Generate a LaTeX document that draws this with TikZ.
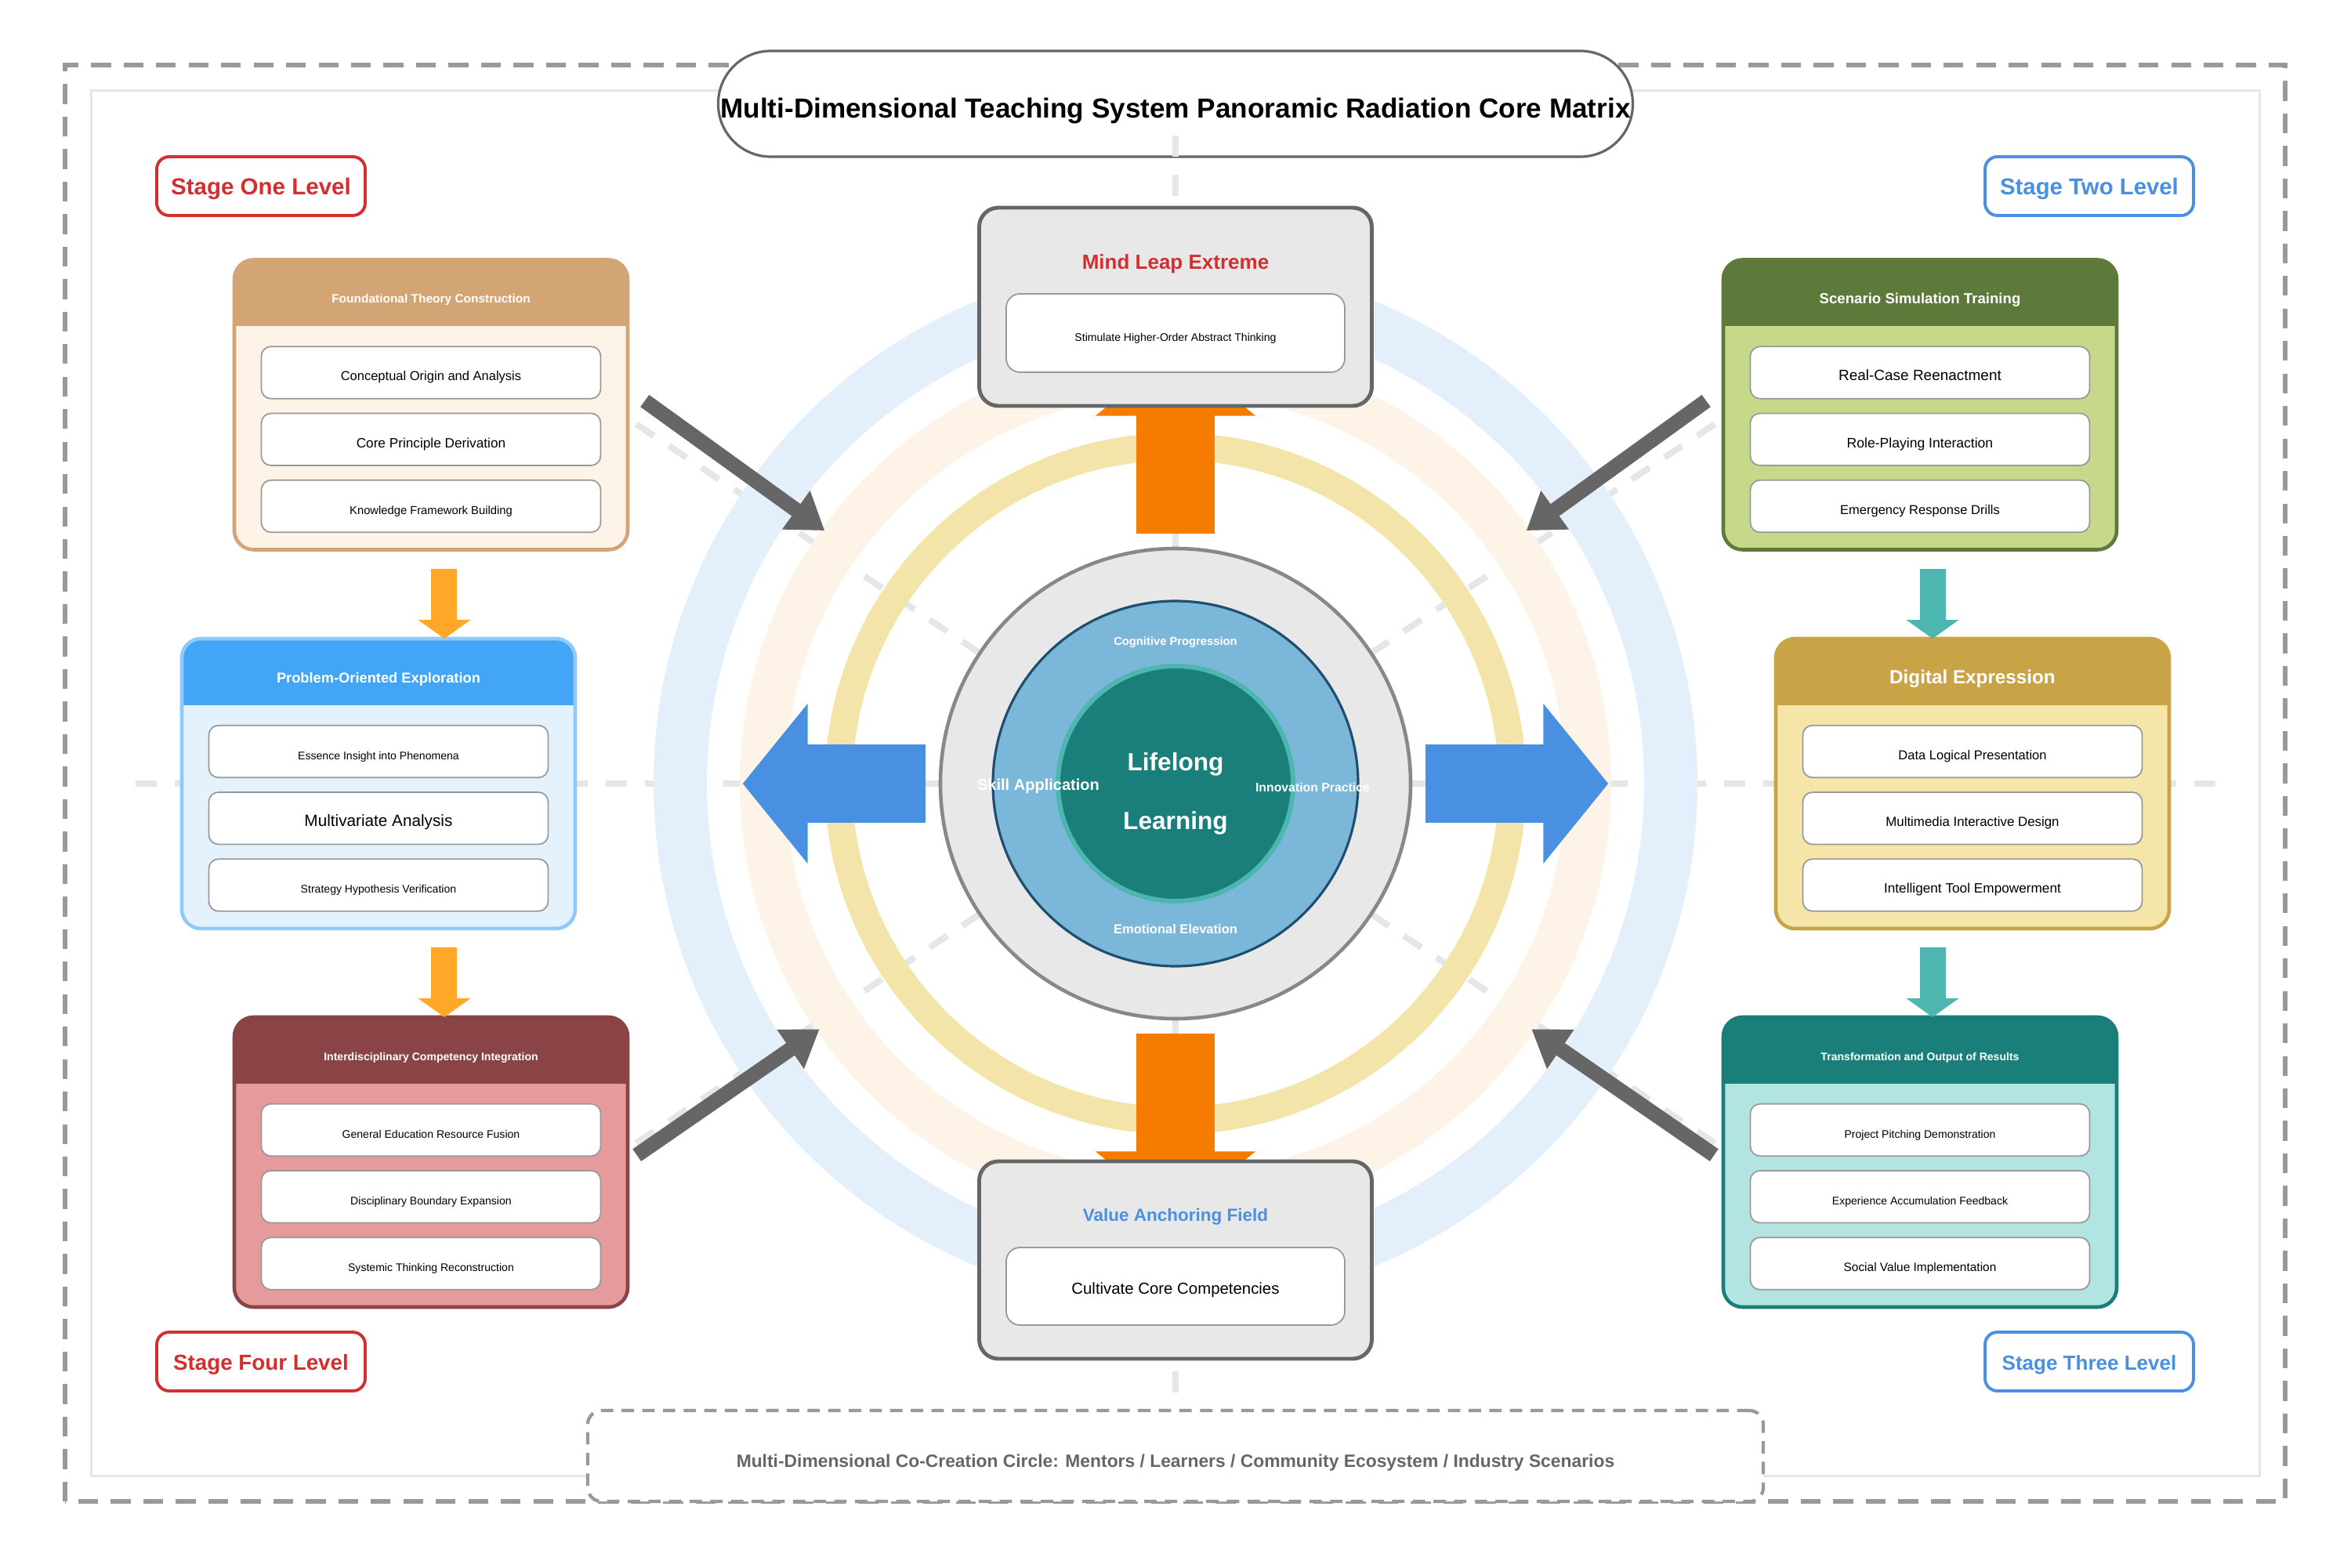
\documentclass[tikz,border=0pt]{standalone}
\usepackage{fontspec}
\setmainfont{Liberation Sans}
\usetikzlibrary{arrows.meta,positioning,calc}
\definecolor{mxRed}{HTML}{D32F2F}
\definecolor{mxBlue}{HTML}{4A90E2}
\definecolor{mxOrange}{HTML}{F57C00}
\definecolor{mxGrey}{HTML}{666666}
\definecolor{mxFrame}{HTML}{999999}
\definecolor{mxLine}{HTML}{E6E6E6}
\definecolor{mxPanel}{HTML}{E8E8E8}
\definecolor{ringBlue}{HTML}{E3F0FB}
\definecolor{ringCream}{HTML}{FDF3E6}
\definecolor{ringGold}{HTML}{F3E5A9}
\definecolor{coreEdge}{HTML}{888888}
\definecolor{coreMid}{HTML}{7BB7D8}
\definecolor{coreNavy}{HTML}{1F4E6E}
\definecolor{coreTeal}{HTML}{1A7F7A}
\definecolor{coreAqua}{HTML}{4DB6B0}
% panel families: Hdr / Body / Line
\definecolor{tanHdr}{HTML}{D4A574}   \definecolor{tanBody}{HTML}{FDF3E7}   \colorlet{tanLine}{tanHdr}
\definecolor{skyHdr}{HTML}{42A5F5}   \definecolor{skyBody}{HTML}{E3F2FD}   \definecolor{skyLine}{HTML}{90CAF9}
\definecolor{wineHdr}{HTML}{8B4446}  \definecolor{wineBody}{HTML}{E59B9B}  \colorlet{wineLine}{wineHdr}
\definecolor{oliveHdr}{HTML}{5D7A3A} \definecolor{oliveBody}{HTML}{C6D98B} \colorlet{oliveLine}{oliveHdr}
\definecolor{goldHdr}{HTML}{C9A447}  \definecolor{goldBody}{HTML}{F5E5A9}  \colorlet{goldLine}{goldHdr}
\definecolor{tealHdr}{HTML}{1A7F7A}  \definecolor{tealBody}{HTML}{B2E4E1}  \colorlet{tealLine}{tealHdr}
\definecolor{stepOrange}{HTML}{FFA726}
\definecolor{stepTeal}{HTML}{4DB6B0}
\newcommand{\txsz}[1]{\fontsize{#1}{#1}\selectfont}
\tikzset{
  panel/.style={rectangle, rounded corners=7pt, minimum width=5.02cm, minimum height=3.7cm,
              inner sep=0pt, outer sep=0pt},
  hdrtext/.style={text=white, inner sep=0pt},
  item/.style={rectangle, rounded corners=3.5pt, draw=mxFrame, line width=0.5pt,
              fill=white, minimum width=4.33cm, minimum height=0.665cm, inner sep=0pt,
              text height=5.9pt, text depth=0pt},
  stage/.style={rectangle, rounded corners=4.5pt, fill=white, line width=1.1pt,
              minimum width=2.66cm, minimum height=0.75cm, inner sep=0pt,
              text height=6.5pt, text depth=0pt},
  hub/.style={rectangle, rounded corners=7pt, fill=mxPanel, draw=mxGrey,
              line width=1.4pt, minimum width=5.01cm, minimum height=2.53cm},
  titlebox/.style={rectangle, rounded corners=0.67cm, draw=mxGrey, fill=white,
              line width=0.9pt, minimum width=11.67cm, minimum height=1.35cm,
              inner sep=0pt, text height=10pt, text depth=0pt, font=\txsz{10}\bfseries},
  ray/.style={draw=mxLine, line width=2.3pt, dash pattern=on 0.27cm off 0.23cm},
  inlbl/.style={text=white, inner sep=0pt},
  bigflow/.style={line width=1cm, -{Triangle[length=0.83cm, width=2cm]}},
  diag/.style={draw=mxGrey, line width=0.19cm, -{Triangle[length=0.45cm, width=0.58cm]}},
  stepflow/.style={line width=0.33cm, -{Triangle[length=0.24cm, width=0.66cm]}},
}
% #1 name, #2 position, #3 colour family, #4 title, #5-#7 items
\newcommand{\stagepanel}[7]{%
  \node[panel, fill=#3Body] (#1) at (#2) {};
  \begin{scope}
    \clip[rounded corners=7pt] (#1.north west) rectangle (#1.south east);
    \fill[#3Hdr] (#1.north west) rectangle ($(#1.north east)+(0,-0.85)$);
  \end{scope}
  \draw[#3Line, line width=1.3pt, rounded corners=7pt] (#1.north west) rectangle (#1.south east);
  \node[hdrtext] (#1-t) at ($(#1.north)+(0,-0.515)$) {#4};
  \node[item] (#1-1) at ($(#1.north)+(0,-1.44)$) {#5};
  \node[item, below=0.17cm of #1-1] (#1-2) {#6};
  \node[item, below=0.17cm of #1-2] (#1-3) {#7};
}

\begin{document}
\begin{tikzpicture}
    \useasboundingbox (-15,-10) rectangle (15,10);
    \fill[white] (-15,-10) rectangle (15,10);
    % frames
    \draw[mxFrame, line width=1.5pt, dash pattern=on 7.2pt off 4.6pt] (-14.17,-9.16) rectangle (14.16,9.17);
    \draw[mxLine, line width=0.85pt] (-13.83,-8.83) rectangle (13.83,8.84);
    \node[titlebox] (title) at (0,8.675)
      {Multi-Dimensional Teaching System Panoramic Radiation Core Matrix};

    % radial guides and rings
    \coordinate (c0) at (0,0);
    \foreach \a/\r in {0/13.3,180/13.3,90/8.33,270/8.0,33.69/10,146.31/10,213.69/10,326.31/10}
      \draw[ray] (c0) -- (\a:\r);
    \draw[ringBlue, line width=0.68cm] (c0) circle (6.32);
    \draw[ringCream, line width=0.58cm] (c0) circle (5.27);
    \draw[ringGold, line width=0.35cm] (c0) circle (4.30);

    % inward arrows from the four stages
    \foreach \a in {35.8,144.2,214.6,325.4}
      \draw[diag] (\a:8.35) -- (\a:5.52);

    % core
    \node[circle, fill=mxPanel, draw=coreEdge, line width=1.3pt, minimum size=6cm, inner sep=0pt] (core) at (c0) {};
    \node[circle, fill=coreMid, draw=coreNavy, line width=0.9pt, minimum size=4.66cm, inner sep=0pt] (mid) at (c0) {};
    \node[circle, fill=coreTeal, draw=coreAqua, line width=1.7pt, minimum size=3cm, inner sep=0pt] (inner) at (c0) {};
    \node[inlbl, anchor=base, font=\txsz{9}\bfseries] (life) at (0,0.17) {Lifelong};
    \node[inlbl, anchor=base, font=\txsz{9}\bfseries] (learn) at (0,-0.585) {Learning};
    \node[inlbl, font=\txsz{4.2}\bfseries] (cog) at (0,1.80) {Cognitive Progression};
    \node[inlbl, font=\txsz{4.7}\bfseries] (emo) at (0,-1.86) {Emotional Elevation};
    \node[inlbl, font=\txsz{5.7}\bfseries] (skill) at (-1.75,-0.03) {Skill Application};
    \node[inlbl, font=\txsz{4.5}\bfseries] (innov) at (1.75,-0.05) {Innovation Practice};

    % radiating arrows
    \draw[bigflow, mxBlue] ($(core.west)+(-0.17,0)$) -- ++(-2.33,0);
    \draw[bigflow, mxBlue] ($(core.east)+(0.17,0)$) -- ++(2.33,0);
    \draw[bigflow, mxOrange] ($(core.north)+(0,0.17)$) -- ++(0,2.33);
    \draw[bigflow, mxOrange] ($(core.south)+(0,-0.17)$) -- ++(0,-2.33);

    % hubs
    \node[hub] (leap) at (0,6.085) {};
    \node[inner sep=0pt, text=mxRed, font=\txsz{7.4}\bfseries] (leap-t) at ($(leap.north)+(0,-0.74)$) {Mind Leap Extreme};
    \node[item, minimum width=4.32cm, minimum height=1cm, rounded corners=5pt] (leap-1) at (0,5.75)
      {\txsz{4.0}Stimulate Higher-Order Abstract Thinking};
    \node[hub, minimum height=2.52cm] (value) at (0,-6.08) {};
    \node[inner sep=0pt, text=mxBlue, font=\txsz{6.4}\bfseries] (value-t) at ($(value.north)+(0,-0.73)$) {Value Anchoring Field};
    \node[item, minimum width=4.32cm, minimum height=0.99cm, rounded corners=5pt] (value-1) at (0,-6.415)
      {\txsz{5.8}Cultivate Core Competencies};

    % stage panels
    \stagepanel{A}{-9.5,4.835}{tan}{\txsz{4.4}\bfseries Foundational Theory Construction}
      {\txsz{4.7}Conceptual Origin and Analysis}{\txsz{4.9}Core Principle Derivation}
      {\txsz{4.2}Knowledge Framework Building}
    \stagepanel{B}{-10.17,0}{sky}{\txsz{5.2}\bfseries Problem-Oriented Exploration}
      {\txsz{4.0}Essence Insight into Phenomena}{\txsz{5.9}Multivariate Analysis}
      {\txsz{4.0}Strategy Hypothesis Verification}
    \stagepanel{C}{-9.5,-4.83}{wine}{\txsz{4.0}\bfseries Interdisciplinary Competency Integration}
      {\txsz{4.0}General Education Resource Fusion}{\txsz{4.0}Disciplinary Boundary Expansion}
      {\txsz{4.0}Systemic Thinking Reconstruction}
    \stagepanel{D}{9.5,4.835}{olive}{\txsz{5.3}\bfseries Scenario Simulation Training}
      {\txsz{5.4}Real-Case Reenactment}{\txsz{5.0}Role-Playing Interaction}
      {\txsz{4.7}Emergency Response Drills}
    \stagepanel{E}{10.17,0}{gold}{\txsz{6.9}\bfseries Digital Expression}
      {\txsz{4.7}Data Logical Presentation}{\txsz{4.8}Multimedia Interactive Design}
      {\txsz{4.9}Intelligent Tool Empowerment}
    \stagepanel{F}{9.5,-4.83}{teal}{\txsz{4.0}\bfseries Transformation and Output of Results}
      {\txsz{4.0}Project Pitching Demonstration}{\txsz{4.0}Experience Accumulation Feedback}
      {\txsz{4.4}Social Value Implementation}

    % steps down each column
    \coordinate (lx) at (-9.33,0);
    \coordinate (rx) at (9.66,0);
    \draw[stepflow, stepOrange] ($(lx |- A.south)+(0,-0.24)$) -- (lx |- B.north);
    \draw[stepflow, stepOrange] ($(lx |- B.south)+(0,-0.24)$) -- (lx |- C.north);
    \draw[stepflow, stepTeal] ($(rx |- D.south)+(0,-0.24)$) -- (rx |- E.north);
    \draw[stepflow, stepTeal] ($(rx |- E.south)+(0,-0.24)$) -- (rx |- F.north);

    % stage tags
    \node[stage, draw=mxRed, text=mxRed, font=\txsz{8.4}\bfseries] (s1) at (-11.67,7.625) {Stage One Level};
    \node[stage, draw=mxBlue, text=mxBlue, font=\txsz{8.35}\bfseries] (s2) at (11.66,7.625) {Stage Two Level};
    \node[stage, draw=mxBlue, text=mxBlue, font=\txsz{7.4}\bfseries] (s3) at (11.66,-7.375) {Stage Three Level};
    \node[stage, draw=mxRed, text=mxRed, font=\txsz{7.9}\bfseries] (s4) at (-11.67,-7.375) {Stage Four Level};

    % co-creation circle
    \node[rectangle, draw=mxFrame, fill=white, line width=1.2pt, dash pattern=on 4.5pt off 3pt,
          rounded corners=5pt, minimum width=15cm, minimum height=1.16cm] (cocircle) at (0,-8.58) {};
    \node[inner sep=0pt, text=mxGrey, font=\txsz{6.5}\bfseries] (cocircle-t) at (0,-8.67)
      {Multi-Dimensional Co-Creation Circle: Mentors / Learners / Community Ecosystem / Industry Scenarios};
\end{tikzpicture}
\end{document}
